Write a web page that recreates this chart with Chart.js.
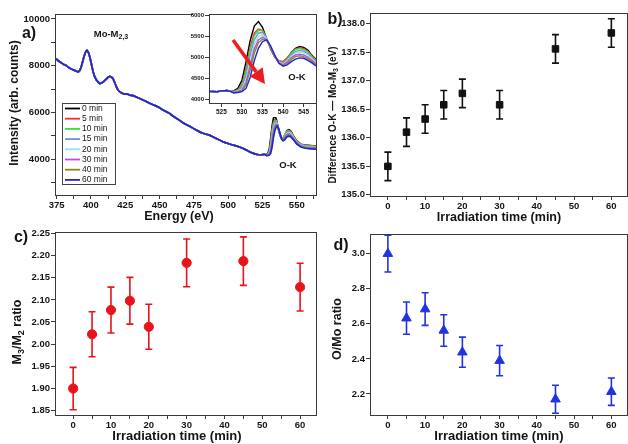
<!DOCTYPE html>
<html>
<head>
<meta charset="utf-8">
<script src="https://cdn.jsdelivr.net/npm/chart.js@4.4.1/dist/chart.umd.min.js"></script>
<style>
  html, body { margin: 0; padding: 0; background: #fff; }
  #wrap { position: relative; width: 628px; height: 444px; overflow: hidden; }
  #wrap canvas { position: absolute; left: 0; top: 0; }
</style>
</head>
<body>
<div id="wrap">
  <canvas id="chartA" width="628" height="444"></canvas>
  <canvas id="chartInset" width="628" height="444"></canvas>
  <canvas id="chartB" width="628" height="444"></canvas>
  <canvas id="chartC" width="628" height="444"></canvas>
  <canvas id="chartD" width="628" height="444"></canvas>
</div>
<script>
// ---- data ----

// panel a: EELS spectra, shared part below the O-K edge
const energyBase = [374.5, 376, 377.5, 379, 380.5, 382, 383.5, 385, 386.5, 388, 389.5, 390.7, 392, 393.2,
  394.5, 395.6, 396.5, 397.2, 398.2, 399.2, 400.4, 401.6, 402.8, 404.1, 405.3, 406.5, 407.7, 408.9, 410.1,
  411.3, 412.5, 413.7, 414.9, 416.1, 417.3, 418.5, 419.7, 421, 422.8, 424.6, 426.5, 428.3, 430.7, 433.1,
  435.5, 437.9, 440.3, 442.8, 445.2, 447.7, 450, 452.5, 455, 457.3, 459.7, 462.2, 464.6, 467, 469.4, 471.9,
  474.3, 476.7, 479.2, 481.6, 484, 486.4, 488.8, 491.3, 493.7, 496.1, 498.5, 500.9, 503.3, 505.8, 508.2,
  510.6, 513, 515.5, 517.9, 520.3, 522, 523.9, 525, 526.4, 527.2];
const intensityBase = [8300, 8220, 8160, 8100, 8040, 8010, 7930, 7880, 7840, 7800, 7760, 7730, 7800, 8010,
  8300, 8510, 8620, 8650, 8560, 8370, 8050, 7730, 7520, 7380, 7290, 7240, 7260, 7300, 7370,
  7440, 7510, 7545, 7520, 7440, 7280, 7100, 6960, 6880, 6820, 6780, 6790, 6740, 6720, 6660,
  6600, 6530, 6470, 6390, 6330, 6270, 6200, 6100, 6030, 5960, 5850, 5750, 5660, 5560, 5480, 5410,
  5330, 5250, 5170, 5110, 5070, 5030, 4960, 4890, 4820, 4750, 4700, 4650, 4610, 4570, 4520,
  4470, 4400, 4320, 4260, 4220, 4190, 4180, 4200, 4210, 4190];

// O-K edge region, one array per irradiation time
const energyOK = [528, 529, 530, 531, 532, 533, 534, 535, 536, 537, 538, 539, 540, 541, 542, 543, 544,
  545, 546, 547, 548, 550, 553, 556, 560, 564];
const ok0min = [4200, 4260, 4450, 4900, 5400, 5750, 5860, 5720, 5450, 5200, 5000, 4900, 4880, 4980, 5120,
  5220, 5260, 5240, 5180, 5050, 4950, 4780, 4640, 4600, 4580, 4560];
const ok5min = [4190, 4230, 4350, 4750, 5250, 5580, 5680, 5650, 5450, 5220, 5020, 4920, 4900, 4990, 5110,
  5200, 5230, 5210, 5150, 5040, 4940, 4770, 4630, 4590, 4570, 4550];
const ok10min = [4180, 4220, 4320, 4680, 5180, 5520, 5650, 5640, 5460, 5230, 5030, 4900, 4870, 4960, 5100,
  5190, 5210, 5190, 5130, 5020, 4920, 4760, 4620, 4580, 4560, 4540];
const ok15min = [4170, 4200, 4280, 4580, 5050, 5420, 5580, 5600, 5460, 5240, 5030, 4890, 4860, 4940, 5060,
  5140, 5170, 5150, 5090, 4990, 4900, 4740, 4600, 4560, 4540, 4520];
const ok20min = [4170, 4190, 4250, 4480, 4920, 5310, 5500, 5550, 5450, 5240, 5030, 4880, 4850, 4920, 5030,
  5110, 5130, 5110, 5060, 4970, 4880, 4720, 4590, 4540, 4520, 4500];
const ok30min = [4160, 4180, 4220, 4400, 4800, 5200, 5420, 5490, 5430, 5240, 5030, 4870, 4830, 4890, 4990,
  5060, 5080, 5060, 5010, 4930, 4850, 4700, 4570, 4520, 4500, 4480];
const ok40min = [4160, 4170, 4200, 4340, 4700, 5100, 5350, 5440, 5410, 5240, 5030, 4860, 4810, 4860, 4950,
  5020, 5040, 5020, 4970, 4900, 4830, 4680, 4550, 4500, 4470, 4460];
const ok60min = [4150, 4160, 4180, 4260, 4520, 4920, 5220, 5380, 5420, 5270, 5050, 4860, 4790, 4820, 4900,
  4960, 4990, 4980, 4930, 4870, 4800, 4650, 4520, 4470, 4440, 4430];

const spectraLabels = ['0 min', '5 min', '10 min', '15 min', '20 min', '30 min', '40 min', '60 min'];
const spectraOK = [ok0min, ok5min, ok10min, ok15min, ok20min, ok30min, ok40min, ok60min];

// panels b, c, d
const times = [0, 5, 10, 15, 20, 30, 45, 60];
const diffOK = [135.5, 136.1, 136.33, 136.58, 136.78, 136.58, 137.56, 137.84];
const diffErr = [0.25, 0.25, 0.25, 0.25, 0.25, 0.25, 0.25, 0.25];
const m3m2 = [1.899, 2.022, 2.077, 2.098, 2.039, 2.184, 2.188, 2.129];
const m3m2Err = [0.048, 0.051, 0.052, 0.053, 0.051, 0.054, 0.055, 0.054];
const oMo = [3.0, 2.632, 2.684, 2.562, 2.438, 2.39, 2.17, 2.213];
const oMoErr = [0.105, 0.092, 0.093, 0.09, 0.086, 0.086, 0.08, 0.078];

// tick values
const aXTicks = [375, 387.5, 400, 412.5, 425, 437.5, 450, 462.5, 475, 487.5, 500, 512.5, 525, 537.5, 550, 562.5];
const aXLabels = [375, 400, 425, 450, 475, 500, 525, 550];
const aYTicks = [3000, 4000, 5000, 6000, 7000, 8000, 9000, 10000];
const aYLabels = [4000, 6000, 8000, 10000];
const insetXTicks = [525, 530, 535, 540, 545];
const insetYTicks = [4000, 4500, 5000, 5500, 6000];
const timeTicks = [0, 5, 10, 15, 20, 25, 30, 35, 40, 45, 50, 55, 60];
const timeLabels = [0, 10, 20, 30, 40, 50, 60];
const bYTicks = [135.0, 135.5, 136.0, 136.5, 137.0, 137.5, 138.0];
const cYTicks = [1.85, 1.9, 1.95, 2.0, 2.05, 2.1, 2.15, 2.2, 2.25];
const dYTicks = [2.2, 2.4, 2.6, 2.8, 3.0];

// ---- styling / helpers ----
const W = 628, H = 444;
const FONT = '"Liberation Sans", Arial, sans-serif';
const INK = '#151515';
const AXIS = '#3a3a3a';
const spectraColors = ['#000000', '#ff2a2a', '#39e03a', '#6f8fe0', '#8fe6e6', '#c24ae6', '#8c8c1e', '#2323e0'];

function layoutFor(area, yW, xH) {
  return { autoPadding: false, padding: { left: area[0] - yW, top: area[1], right: W - area[2], bottom: H - area[3] - xH } };
}

function linAxis(min, max, tickVals, labelVals, fmt, fontSize, fitProp, fitVal) {
  return {
    type: 'linear', min, max,
    afterBuildTicks: s => { s.ticks = tickVals.map(v => ({ value: v })); },
    afterFit: s => { s[fitProp] = fitVal; },
    grid: { display: true, drawOnChartArea: false, drawTicks: true, tickLength: 4, color: AXIS, tickColor: AXIS },
    border: { display: false },
    ticks: {
      autoSkip: false, maxRotation: 0, padding: 1, color: INK,
      font: { family: FONT, size: fontSize, weight: 'bold' },
      callback: v => labelVals.includes(v) ? fmt(v) : ''
    }
  };
}

function drawRich(ctx, parts, x, y, size, rot) {
  ctx.save();
  ctx.translate(x, y);
  if (rot) ctx.rotate(rot);
  const main = `bold ${size}px ${FONT}`, sub = `bold ${Math.round(size * 0.72)}px ${FONT}`;
  let total = 0;
  parts.forEach(p => { ctx.font = p[1] ? sub : main; total += ctx.measureText(p[0]).width; });
  let cx = -total / 2;
  ctx.textBaseline = 'middle';
  ctx.textAlign = 'left';
  ctx.fillStyle = INK;
  parts.forEach(p => {
    ctx.font = p[1] ? sub : main;
    ctx.fillText(p[0], cx, p[1] ? size * 0.32 : 0);
    cx += ctx.measureText(p[0]).width;
  });
  ctx.restore();
}

function textPlugin(items) {
  return {
    id: 'texts',
    afterDraw(chart) {
      items.forEach(t => drawRich(chart.ctx, t.parts, t.x, t.y, t.size, t.rot || 0));
    }
  };
}

const framePlugin = {
  id: 'frame',
  beforeDraw(chart, args, opts) {
    if (!opts.fill) return;
    const a = chart.chartArea;
    chart.ctx.save();
    chart.ctx.fillStyle = opts.fill;
    chart.ctx.fillRect(a.left - 16, a.top, a.right - a.left + 16, a.bottom - a.top + 14);
    chart.ctx.restore();
  },
  afterDraw(chart) {
    const a = chart.chartArea, ctx = chart.ctx;
    ctx.save();
    ctx.strokeStyle = AXIS;
    ctx.lineWidth = 1;
    ctx.strokeRect(Math.round(a.left) + 0.5, Math.round(a.top) + 0.5,
      Math.round(a.right - a.left), Math.round(a.bottom - a.top));
    ctx.restore();
  }
};

const errorBarPlugin = {
  id: 'errorBars',
  beforeDatasetsDraw(chart) {
    const { ctx, scales: { x, y } } = chart;
    chart.data.datasets.forEach(ds => {
      if (!ds.errors) return;
      ctx.save();
      ctx.strokeStyle = ds.errorColor;
      ctx.lineWidth = 1.6;
      ds.data.forEach((p, i) => {
        const px = x.getPixelForValue(p.x);
        const top = y.getPixelForValue(p.y + ds.errors[i]);
        const bot = y.getPixelForValue(p.y - ds.errors[i]);
        ctx.beginPath();
        ctx.moveTo(px, top); ctx.lineTo(px, bot);
        ctx.moveTo(px - 3.5, top); ctx.lineTo(px + 3.5, top);
        ctx.moveTo(px - 3.5, bot); ctx.lineTo(px + 3.5, bot);
        ctx.stroke();
      });
      ctx.restore();
    });
  }
};

const legendPlugin = {
  id: 'boxLegend',
  afterDraw(chart) {
    const ctx = chart.ctx;
    const x0 = 62, y0 = 103, w = 53, h = 81;
    ctx.save();
    ctx.fillStyle = '#fff';
    ctx.fillRect(x0, y0, w, h);
    ctx.strokeStyle = '#444';
    ctx.lineWidth = 1;
    ctx.strokeRect(x0 + 0.5, y0 + 0.5, w, h);
    ctx.font = `8.5px ${FONT}`;
    ctx.textBaseline = 'middle';
    chart.data.datasets.forEach((ds, i) => {
      const yy = y0 + 5.5 + i * 10.2;
      ctx.strokeStyle = ds.borderColor;
      ctx.lineWidth = 1.8;
      ctx.beginPath(); ctx.moveTo(x0 + 3, yy); ctx.lineTo(x0 + 18, yy); ctx.stroke();
      ctx.fillStyle = INK;
      ctx.fillText(ds.label, x0 + 20, yy);
    });
    ctx.restore();
  }
};

const arrowPlugin = {
  id: 'arrow',
  afterDraw(chart) {
    const ctx = chart.ctx;
    const x1 = 233, y1 = 40, x2 = 265, y2 = 84;
    const ang = Math.atan2(y2 - y1, x2 - x1);
    const hl = 15, hw = 8;
    const bx = x2 - hl * Math.cos(ang), by = y2 - hl * Math.sin(ang);
    ctx.save();
    ctx.strokeStyle = '#ee1c1c';
    ctx.fillStyle = '#ee1c1c';
    ctx.lineWidth = 3.5;
    ctx.beginPath(); ctx.moveTo(x1, y1); ctx.lineTo(bx, by); ctx.stroke();
    ctx.beginPath();
    ctx.moveTo(x2, y2);
    ctx.lineTo(bx + hw * Math.sin(ang), by - hw * Math.cos(ang));
    ctx.lineTo(bx - hw * Math.sin(ang), by + hw * Math.cos(ang));
    ctx.closePath(); ctx.fill();
    ctx.restore();
  }
};

function spectrumPoints(okValues) {
  return energyBase.map((e, i) => ({ x: e, y: intensityBase[i] }))
    .concat(energyOK.map((e, i) => ({ x: e, y: okValues[i] })));
}

// later series are drawn on top (60 min ends up uppermost, as in the figure)
function spectraDatasets(width) {
  return spectraOK.map((vals, i) => ({
    label: spectraLabels[i],
    data: spectrumPoints(vals),
    order: spectraOK.length - i,
    showLine: true,
    borderColor: spectraColors[i],
    borderWidth: width,
    pointRadius: 0,
    tension: 0
  }));
}

function pointsFor(values) {
  return times.map((t, i) => ({ x: t, y: values[i] }));
}

const common = {
  responsive: false,
  animation: false,
  devicePixelRatio: 1,
  events: []
};

const fmt0 = v => String(v);
const fmt1 = v => v.toFixed(1);
const fmt2 = v => v.toFixed(2);

// ---- panel a ----
new Chart(document.getElementById('chartA'), {
  type: 'scatter',
  data: { datasets: spectraDatasets(1.7) },
  options: {
    ...common,
    layout: layoutFor([55, 14, 316, 195], 40, 20),
    plugins: { legend: { display: false }, tooltip: { enabled: false }, frame: {} },
    scales: {
      x: linAxis(373.8, 564, aXTicks, aXLabels, fmt0, 9.5, 'height', 20),
      y: linAxis(2470, 10210, aYTicks, aYLabels, fmt0, 9.5, 'width', 40)
    }
  },
  plugins: [framePlugin, legendPlugin, textPlugin([
    { parts: [['a)']], x: 29, y: 34, size: 16 },
    { parts: [['Mo-M'], ['2,3', 1]], x: 111, y: 34, size: 9.5 },
    { parts: [['O-K']], x: 288, y: 165, size: 9.5 },
    { parts: [['Intensity (arb. counts)']], x: 15, y: 103, size: 12, rot: -Math.PI / 2 },
    { parts: [['Energy (eV)']], x: 179, y: 217, size: 12.5 }
  ])]
});

// ---- inset of panel a ----
new Chart(document.getElementById('chartInset'), {
  type: 'scatter',
  data: { datasets: spectraDatasets(1.4) },
  options: {
    ...common,
    layout: layoutFor([209, 14, 316, 103], 18, 11),
    plugins: { legend: { display: false }, tooltip: { enabled: false }, frame: { fill: '#fff' } },
    scales: {
      x: linAxis(522, 548, insetXTicks, insetXTicks, fmt0, 6.5, 'height', 11),
      y: linAxis(3910, 6040, insetYTicks, insetYTicks, fmt0, 6, 'width', 18)
    }
  },
  plugins: [framePlugin, arrowPlugin, textPlugin([
    { parts: [['O-K']], x: 297, y: 77, size: 9.5 }
  ])]
});

function ratioChart(id, area, values, errors, color, style, yMin, yMax, yTicks, yFmt, texts) {
  return new Chart(document.getElementById(id), {
    type: 'scatter',
    data: {
      datasets: [{
        data: pointsFor(values),
        errors,
        errorColor: color,
        pointStyle: style,
        pointRadius: style === 'triangle' ? 5.5 : 4.6,
        backgroundColor: color,
        borderColor: color,
        borderWidth: 1
      }]
    },
    options: {
      ...common,
      layout: layoutFor(area, 36, 20),
      plugins: { legend: { display: false }, tooltip: { enabled: false }, frame: {} },
      scales: {
        x: linAxis(-4.8, 64.2, timeTicks, timeLabels, fmt0, 9.5, 'height', 20),
        y: linAxis(yMin, yMax, yTicks, yTicks, yFmt, 9.5, 'width', 36)
      }
    },
    plugins: [framePlugin, errorBarPlugin, textPlugin(texts)]
  });
}

// ---- panel b ----
ratioChart('chartB', [370, 13, 627, 196], diffOK, diffErr, '#111111', 'rect', 134.98, 138.19, bYTicks, fmt1, [
  { parts: [['b)']], x: 335, y: 20, size: 16 },
  { parts: [['Difference O-K \u2014 Mo-M'], ['3', 1], [' (eV)']], x: 333, y: 115, size: 10, rot: -Math.PI / 2 },
  { parts: [['Irradiation time (min)']], x: 499, y: 218, size: 12.5 }
]);

// ---- panel c ----
ratioChart('chartC', [55, 232, 316, 415], m3m2, m3m2Err, '#e8141a', 'circle', 1.839, 2.254, cYTicks, fmt2, [
  { parts: [['c)']], x: 21, y: 238, size: 16 },
  { parts: [['M'], ['3', 1], ['/M'], ['2', 1], [' ratio']], x: 18, y: 332, size: 12.5, rot: -Math.PI / 2 },
  { parts: [['Irradiation time (min)']], x: 177, y: 436, size: 13 }
]);

// ---- panel d ----
ratioChart('chartD', [370, 234, 627, 415], oMo, oMoErr, '#2233dd', 'triangle', 2.08, 3.112, dYTicks, fmt1, [
  { parts: [['d)']], x: 341, y: 246, size: 16 },
  { parts: [['O/Mo ratio']], x: 338, y: 329, size: 12.5, rot: -Math.PI / 2 },
  { parts: [['Irradiation time (min)']], x: 499, y: 436, size: 13 }
]);
</script>
</body>
</html>
